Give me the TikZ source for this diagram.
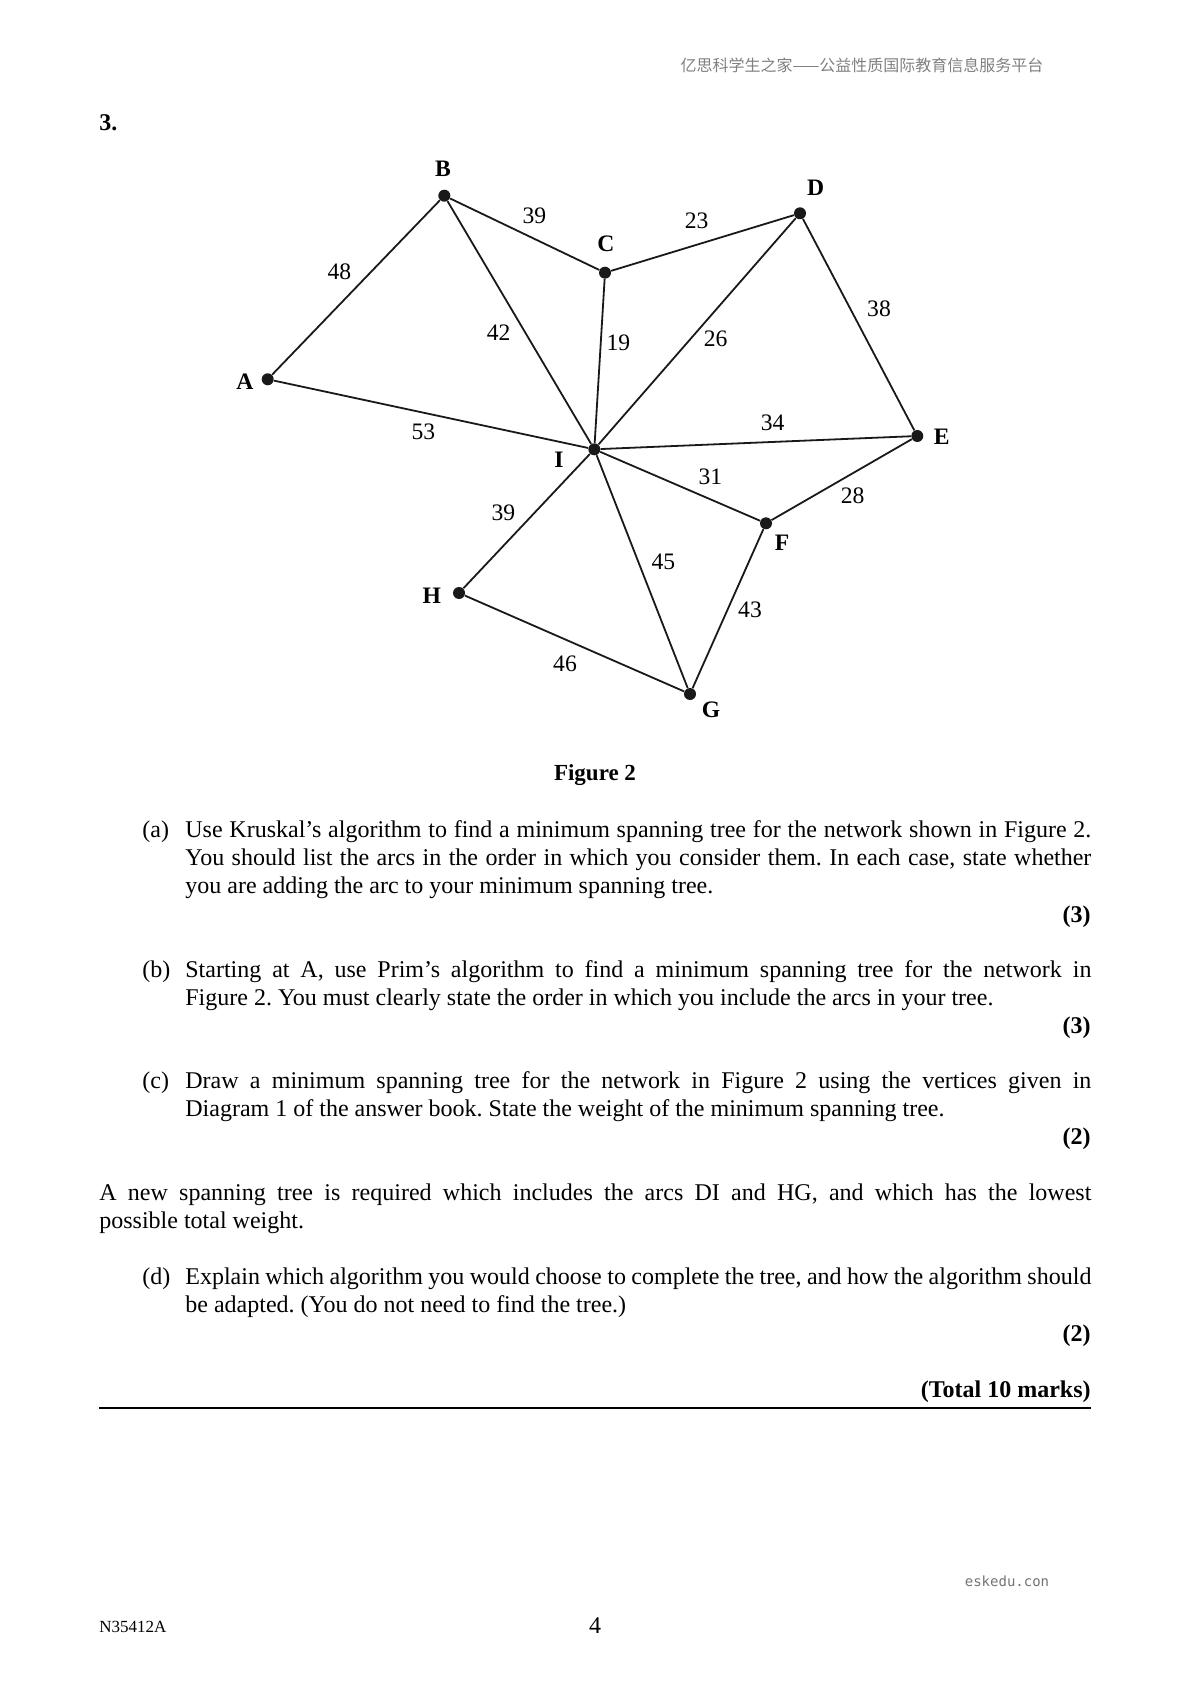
\documentclass[tikz,border=0pt]{standalone}
\usepackage{fontspec}
\setmainfont{Liberation Serif}
\newfontfamily\cjkfont{Noto Sans CJK SC}
\newfontfamily\monofont{DejaVu Sans Mono}
\newcommand{\jline}[1]{\makebox[453pt][s]{#1}}
\newcommand{\jwide}[1]{\makebox[496pt][s]{#1}}
\begin{document}
\frenchspacing
\begin{tikzpicture}[x=0.5pt,y=-0.5pt,
  vtx/.style={circle,fill=black!90,inner sep=0pt,minimum size=6pt},
  edge/.style={line width=0.9pt,black!90},
  wt/.style={inner sep=0pt,font=\fontsize{11.8}{12}\selectfont},
  lab/.style={inner sep=0pt,font=\fontsize{11.8}{12}\selectfont\bfseries},
  txt/.style={anchor=base west,inner sep=0pt,font=\fontsize{12}{14}\selectfont},
  marksty/.style={anchor=base east,inner sep=0pt,font=\fontsize{12}{14}\selectfont\bfseries},
]
\useasboundingbox (0,0) rectangle (1191,1684);
% header and footer
\node[inner sep=0pt,text=black!50,font=\cjkfont\fontsize{8}{9}\selectfont] (hdr) at (862,65) {亿思科学生之家——公益性质国际教育信息服务平台};
\node[inner sep=0pt,text=black!55,font=\monofont\fontsize{7}{8}\selectfont] (esk) at (1007,1581) {eskedu.con};
\node[anchor=base west,inner sep=0pt,font=\fontsize{8.5}{10}\selectfont] (code) at (99,1632) {N35412A};
\node[anchor=base,inner sep=0pt,font=\fontsize{12}{14}\selectfont] (pg) at (595,1633) {4};
% question number
\node[anchor=base west,inner sep=0pt,font=\fontsize{12}{14}\selectfont\bfseries] (qn) at (99,131) {3.};
% vertices
\node[vtx] (A) at (267.7,379.3) {};
\node[vtx] (B) at (444.3,195.7) {};
\node[vtx] (C) at (605,272.7) {};
\node[vtx] (D) at (800,213.3) {};
\node[vtx] (E) at (917.3,436) {};
\node[vtx] (F) at (766,523.3) {};
\node[vtx] (G) at (690,694) {};
\node[vtx] (H) at (459,593) {};
\node[vtx] (I) at (594.3,449.3) {};
% vertex labels
\node[lab] (lA) at (245,382) {A};
\node[lab] (lB) at (443,169) {B};
\node[lab] (lC) at (606,244) {C};
\node[lab] (lD) at (815.7,188) {D};
\node[lab] (lE) at (941.7,436.7) {E};
\node[lab] (lF) at (782,543) {F};
\node[lab] (lG) at (711,710) {G};
\node[lab] (lH) at (431.7,596) {H};
\node[lab] (lI) at (559,460) {I};
% edges
\draw[edge] (A) -- (B);
\draw[edge] (A) -- (I);
\draw[edge] (B) -- (C);
\draw[edge] (B) -- (I);
\draw[edge] (C) -- (D);
\draw[edge] (C) -- (I);
\draw[edge] (D) -- (I);
\draw[edge] (D) -- (E);
\draw[edge] (I) -- (E);
\draw[edge] (I) -- (F);
\draw[edge] (E) -- (F);
\draw[edge] (I) -- (H);
\draw[edge] (I) -- (G);
\draw[edge] (F) -- (G);
\draw[edge] (H) -- (G);
% weights
\node[wt] (wAB) at (339.3,271.7) {48};
\node[wt] (wBC) at (534.3,216) {39};
\node[wt] (wBI) at (498.7,332.7) {42};
\node[wt] (wCI) at (618.3,343.3) {19};
\node[wt] (wAI) at (423.3,432.3) {53};
\node[wt] (wCD) at (696.7,220.7) {23};
\node[wt] (wDE) at (879,308.3) {38};
\node[wt] (wDI) at (715.7,339.3) {26};
\node[wt] (wIE) at (772.7,423.3) {34};
\node[wt] (wIF) at (710.3,477.3) {31};
\node[wt] (wEF) at (852.7,496) {28};
\node[wt] (wIG) at (663.3,561.7) {45};
\node[wt] (wIH) at (503.3,513.3) {39};
\node[wt] (wFG) at (750,609.3) {43};
\node[wt] (wHG) at (565,663.3) {46};
% caption
\node[anchor=base,inner sep=0pt,font=\fontsize{11.5}{14}\selectfont\bfseries] (cap) at (595,780) {Figure 2};
% part (a)
\node[txt] (pa) at (142,837) {(a)};
\node[txt] (a1) at (185,837) {\jline{Use Kruskal’s algorithm to find a minimum spanning tree for the network shown in Figure 2.}};
\node[txt] (a2) at (185,865) {\jline{You should list the arcs in the order in which you consider them. In each case, state whether}};
\node[txt] (a3) at (185,893) {you are adding the arc to your minimum spanning tree.};
\node[marksty] (ma) at (1091,922) {(3)};
% part (b)
\node[txt] (pb) at (142,977) {(b)};
\node[txt] (b1) at (185,977) {\jline{Starting at A, use Prim’s algorithm to find a minimum spanning tree for the network in}};
\node[txt] (b2) at (185,1005) {Figure 2. You must clearly state the order in which you include the arcs in your tree.};
\node[marksty] (mb) at (1091,1033) {(3)};
% part (c)
\node[txt] (pc) at (142,1088) {(c)};
\node[txt] (c1) at (185,1088) {\jline{Draw a minimum spanning tree for the network in Figure 2 using the vertices given in}};
\node[txt] (c2) at (185,1116) {Diagram 1 of the answer book. State the weight of the minimum spanning tree.};
\node[marksty] (mc) at (1091,1144) {(2)};
% new spanning tree
\node[txt] (n1) at (99,1200) {\jwide{A new spanning tree is required which includes the arcs DI and HG, and which has the lowest}};
\node[txt] (n2) at (99,1228) {possible total weight.};
% part (d)
\node[txt] (pd) at (142,1284) {(d)};
\node[txt] (d1) at (185,1284) {\jline{Explain which algorithm you would choose to complete the tree, and how the algorithm should}};
\node[txt] (d2) at (185,1312) {be adapted. (You do not need to find the tree.)};
\node[marksty] (md) at (1091,1341) {(2)};
\node[marksty] (tot) at (1091,1397) {(Total 10 marks)};
% rule
\coordinate (r1) at (99,1408);
\coordinate (r2) at (1091,1408);
\draw[line width=1.1pt] (r1) -- (r2);
\end{tikzpicture}
\end{document}
